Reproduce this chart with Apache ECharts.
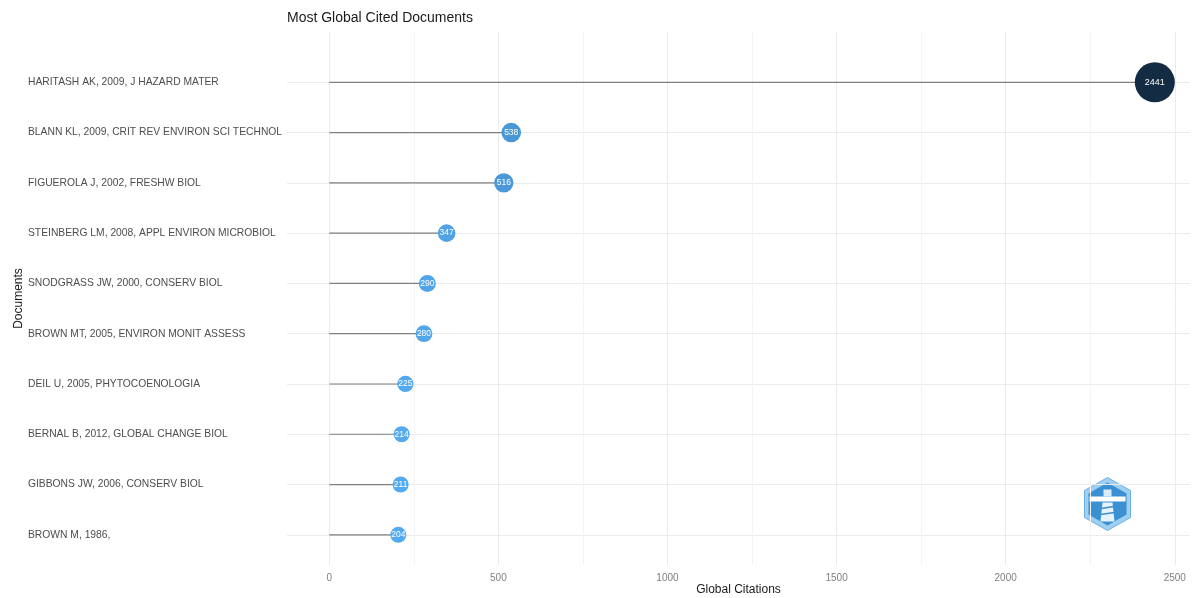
<!DOCTYPE html>
<html>
<head>
<meta charset="utf-8">
<script src="https://cdn.jsdelivr.net/npm/echarts@6/dist/echarts.min.js"></script>
<style>
html,body{margin:0;padding:0;background:#fff;overflow:hidden;}
#chart{width:1194px;height:598px;}
</style>
</head>
<body>
<div id="chart"></div>
<script>
const documents = [
  "HARITASH AK, 2009, J HAZARD MATER",
  "BLANN KL, 2009, CRIT REV ENVIRON SCI TECHNOL",
  "FIGUEROLA J, 2002, FRESHW BIOL",
  "STEINBERG LM, 2008, APPL ENVIRON MICROBIOL",
  "SNODGRASS JW, 2000, CONSERV BIOL",
  "BROWN MT, 2005, ENVIRON MONIT ASSESS",
  "DEIL U, 2005, PHYTOCOENOLOGIA",
  "BERNAL B, 2012, GLOBAL CHANGE BIOL",
  "GIBBONS JW, 2006, CONSERV BIOL",
  "BROWN M, 1986,"
];
const citations = [2441, 538, 516, 347, 290, 280, 225, 214, 211, 204];
const xTicks = [0, 500, 1000, 1500, 2000, 2500];

const vMin = Math.min(...citations), vMax = Math.max(...citations);
function lerp(a, b, t) { return Math.round(a + (b - a) * t); }
function colorFor(v) {
  const t = (v - vMin) / (vMax - vMin);
  const lo = [84, 170, 240], hi = [19, 43, 67];
  return 'rgb(' + lerp(lo[0], hi[0], t) + ',' + lerp(lo[1], hi[1], t) + ',' + lerp(lo[2], hi[2], t) + ')';
}
function sizeFor(v) { return 16 + (v - vMin) * 24 / (vMax - vMin); }

const points = citations.map((v, i) => ({
  value: [v, i],
  symbolSize: sizeFor(v),
  itemStyle: { color: colorFor(v), opacity: 1 },
  label: { fontSize: v === vMax ? 9 : 8.5 }
}));

const ySplitColors = ['rgba(0,0,0,0)'];
for (let i = 0; i < documents.length; i++) ySplitColors.push('#ebebeb');
ySplitColors.push('rgba(0,0,0,0)');

const FONT = 'Liberation Sans, Arial, sans-serif';
const chart = echarts.init(document.getElementById('chart'));
chart.setOption({
  animation: false,
  backgroundColor: '#ffffff',
  title: {
    text: 'Most Global Cited Documents',
    left: 282, top: 6,
    textStyle: { fontFamily: FONT, fontSize: 14, fontWeight: 'normal', color: '#1a1a1a' }
  },
  grid: { left: 287, right: 4, top: 32, bottom: 33, containLabel: false, outerBoundsMode: 'none' },
  xAxis: {
    type: 'value',
    min: -125, max: 2545, interval: 125,
    name: 'Global Citations', nameLocation: 'middle', nameGap: 19, nameMoveOverlap: false,
    nameTextStyle: { fontFamily: FONT, fontSize: 12, color: '#1a1a1a' },
    axisLine: { show: false }, axisTick: { show: false },
    axisLabel: {
      margin: 8, fontFamily: FONT, fontSize: 10, color: '#7f7f7f',
      showMinLabel: true, showMaxLabel: true,
      formatter: v => (xTicks.indexOf(v) >= 0 ? String(v) : '')
    },
    splitLine: { show: true, lineStyle: { width: 1, color: ['rgba(0,0,0,0)', '#ebebeb', 'rgba(0,0,0,0)', '#f4f4f4'] } }
  },
  yAxis: {
    type: 'value', inverse: true,
    min: -1, max: 9.6, interval: 1,
    name: 'Documents', nameLocation: 'middle', nameGap: 262, nameRotate: 90, nameMoveOverlap: false,
    nameTextStyle: { fontFamily: FONT, fontSize: 12, color: '#1a1a1a' },
    axisLine: { show: false }, axisTick: { show: false },
    axisLabel: {
      margin: 259, align: 'left',
      fontFamily: FONT, fontSize: 10.3, color: '#4d4d4d',
      showMinLabel: true, showMaxLabel: true,
      formatter: v => (Number.isInteger(v) && v >= 0 && v < documents.length ? documents[v] : '')
    },
    splitLine: { show: true, lineStyle: { width: 1, color: ySplitColors } }
  },
  series: [
    {
      type: 'custom',
      data: citations.map((v, i) => [v, i]),
      encode: { x: 0, y: 1 },
      renderItem: function (params, api) {
        const p0 = api.coord([0, api.value(1)]);
        const p1 = api.coord([api.value(0), api.value(1)]);
        return {
          type: 'line',
          shape: { x1: p0[0], y1: p0[1], x2: p1[0], y2: p1[1] },
          style: { stroke: '#7f7f7f', lineWidth: 1.2 }
        };
      },
      silent: true, z: 2
    },
    {
      type: 'scatter',
      data: points,
      clip: false,
      z: 3,
      label: {
        show: true, position: 'inside', color: '#ffffff',
        fontFamily: FONT,
        formatter: p => String(p.value[0])
      }
    }
  ],
  graphic: [
    {
      type: 'group', left: 1084, top: 477, silent: true,
      children: [
        { type: 'polygon', shape: { points: [[24,0],[47,13],[47,40],[24,53],[1,40],[1,13]] }, style: { fill: '#9fd0f2', stroke: '#6ab2e6', lineWidth: 1 } },
        { type: 'polygon', shape: { points: [[24,5],[43,16],[43,37],[24,48],[5,37],[5,16]] }, style: { fill: '#3a90d2' } },
        { type: 'rect', shape: { x: 6, y: 19, width: 36, height: 5 }, style: { fill: '#ffffff' } },
        { type: 'rect', shape: { x: 20, y: 12, width: 8, height: 7 }, style: { fill: '#d8ecfa' } },
        { type: 'polygon', shape: { points: [[19,25],[29,25],[31,44],[17,44]] }, style: { fill: '#e6f3fc' } },
        { type: 'line', shape: { x1: 18, y1: 31, x2: 30, y2: 29 }, style: { stroke: '#3a90d2', lineWidth: 1.5 } },
        { type: 'line', shape: { x1: 17, y1: 37, x2: 31, y2: 35 }, style: { stroke: '#3a90d2', lineWidth: 1.5 } }
      ]
    }
  ]
});
</script>
</body>
</html>
